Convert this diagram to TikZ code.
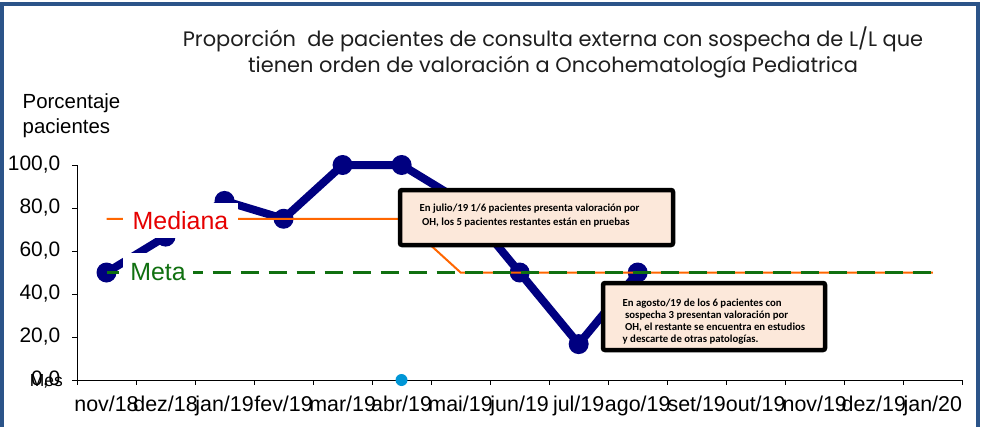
\documentclass[tikz,border=0pt]{standalone}
\usepackage{fontspec}
\setmainfont{Liberation Sans}
\newfontfamily\calib{Carlito}
\newfontfamily\titlefnt{Poppins}
\definecolor{framecol}{RGB}{43,84,137}
\definecolor{navyc}{RGB}{0,0,128}
\definecolor{medcol}{RGB}{255,102,0}
\definecolor{metacol}{RGB}{16,112,16}
\definecolor{peach}{RGB}{252,232,218}
\definecolor{dotblue}{RGB}{0,150,214}
\definecolor{medtext}{RGB}{230,0,0}
\definecolor{titlecol}{RGB}{30,30,30}
\begin{document}
\begin{tikzpicture}[x=1bp,y=-1bp,
  dataline/.style={navyc,line width=8bp,line join=round},
  datadot/.style={fill=navyc},
  medline/.style={medcol,line width=2bp},
  metaline/.style={metacol,line width=2.5bp,dash pattern=on 18bp off 10bp},
  legbox/.style={fill=white,inner sep=0pt,font=\fontsize{25}{28}\selectfont},
  tickl/.style={font=\fontsize{21}{23}\selectfont,inner sep=0pt},
  xtickl/.style={font=\fontsize{21.5}{23}\selectfont,inner sep=0pt},
  notebox/.style={draw=black,line width=4.5bp,fill=peach,rounded corners=2bp,inner sep=0pt},
  notetext/.style={font=\calib\bfseries\fontsize{10.8}{14}\selectfont,align=left,inner sep=0pt,anchor=north west}
]
\useasboundingbox (0,0) rectangle (985,426);
% frame
\draw[framecol,line width=4bp] (1.5,440) -- (1.5,4) -- (977.5,4) -- (977.5,440);
% title
\node[font=\titlefnt\fontsize{21}{26}\selectfont,text=titlecol,align=center,inner sep=0pt,anchor=base] (title) at (553,72.5)
  {Proporción\ \ de pacientes de consulta externa con sospecha de L/L que\\tienen orden de valoración a Oncohematología Pediatrica};
% axis label
\node[font=\fontsize{20.5}{24.5}\selectfont,align=left,inner sep=0pt,anchor=base west] (ylab) at (22.5,133) {Porcentaje\\pacientes};
% axes
\coordinate (origin) at (77,380);
\coordinate (ytop) at (77,165);
\coordinate (xend) at (962.3,380);
\draw[line width=0.9bp] (ytop) -- (origin) -- (xend);
\foreach \v/\t in {0/{0,0},20/{20,0},40/{40,0},60/{60,0},80/{80,0},100/{100,0}}{
  \draw[line width=0.9bp] (72,{380-2.15*\v}) -- (77,{380-2.15*\v});
  \node[tickl,anchor=east] (yt\v) at (60.5,{380-2.15*\v}) {\t};
}
\node[font=\fontsize{17.5}{20}\selectfont,inner sep=0pt,anchor=east] (mes) at (63,381) {Mes};
\foreach \i in {0,...,15}{
  \draw[line width=0.9bp] ({77+59.02*\i},380) -- ({77+59.02*\i},385);
}
\foreach \m [count=\i from 0] in {nov/18,dez/18,jan/19,fev/19,mar/19,abr/19,mai/19,jun/19,jul/19,ago/19,set/19,out/19,nov/19,dez/19,jan/20}{
  \node[xtickl,anchor=base] (xl\i) at ({77+59.02*(\i+0.5)},411) {\m};
}
% data
\foreach \v [count=\i from 0] in {50,66.7,83.3,75,100,100,83.3,50,16.7,50}{
  \coordinate (p\i) at ({77+59.02*(\i+0.5)},{380-2.15*\v});
}
\draw[dataline] (p0) -- (p1) -- (p2) -- (p3) -- (p4) -- (p5) -- (p6) -- (p7) -- (p8) -- (p9);
\foreach \i in {0,...,9}{\fill[datadot] (p\i) circle (10bp);}
% median and goal
\coordinate (m0) at (106.5,218.75);
\coordinate (m5) at (401.6,218.75);
\coordinate (m6) at (460.6,272.5);
\coordinate (m14) at (932.8,272.5);
\coordinate (g0) at (106.5,272.5);
\draw[medline] (m0) -- (m5) -- (m6) -- (m14);
\draw[metaline,dash phase=6bp] (g0) -- (m14);
% legend labels
\node[legbox,text=medtext,minimum width=115bp,minimum height=35bp] (medlab) at (180.5,220.5) {Mediana};
\node[legbox,text=metacol,minimum width=70bp,minimum height=39bp] (metalab) at (158,272.5) {Meta};
% blue dot
\fill[dotblue] (401.5,380) circle (6bp);
% notes
\node[notebox,minimum width=273bp,minimum height=55bp] (note1) at (536.5,217.5) {};
\node[notetext] (note1t) at (419.5,203.5) {En julio/19 1/6 pacientes presenta valoración por\\\ OH, los 5 pacientes restantes están en pruebas};
\node[notebox,minimum width=222bp,minimum height=67bp] (note2) at (714,316.5) {};
\node[notetext,font=\calib\bfseries\fontsize{10.8}{12.2}\selectfont] (note2t) at (622.5,298.5) {En agosto/19 de los 6 pacientes con\\\ sospecha 3 presentan valoración por\\\ OH, el restante se encuentra en estudios\\y descarte de otras patologías.};
\end{tikzpicture}
\end{document}
